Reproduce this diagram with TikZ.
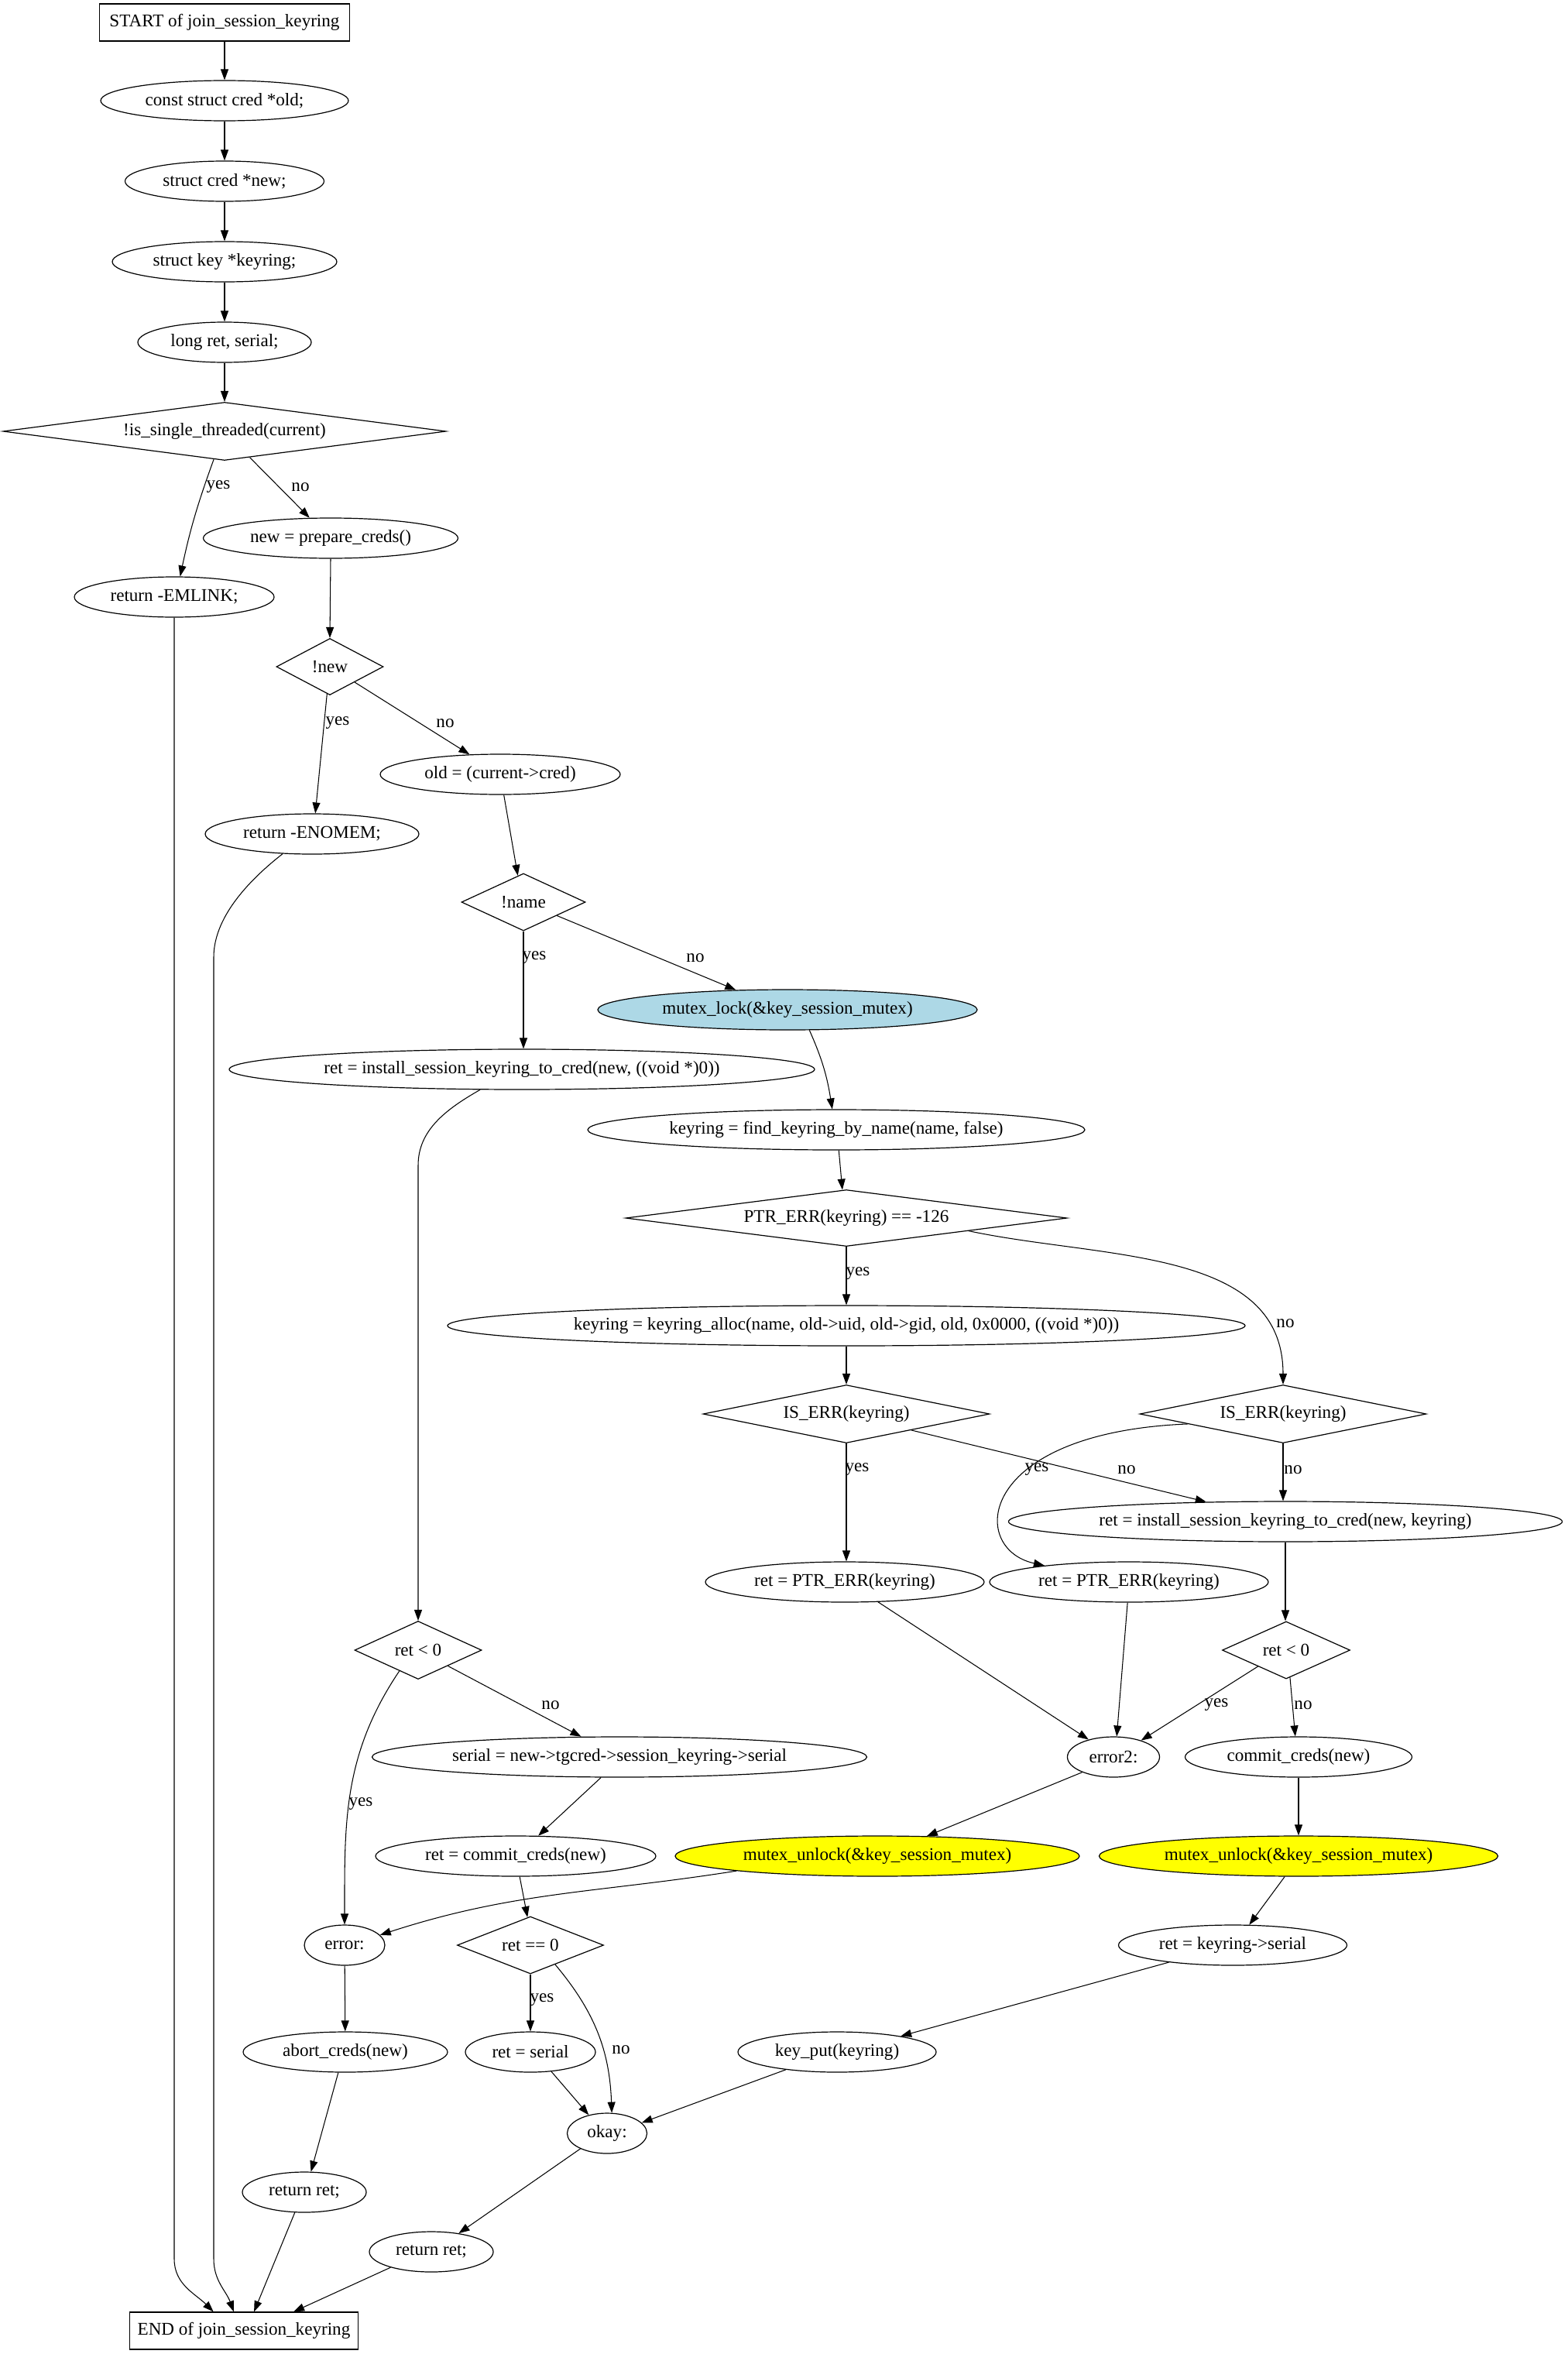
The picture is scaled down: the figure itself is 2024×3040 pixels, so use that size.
\documentclass[tikz,border=0pt]{standalone}
\usepackage{fontspec}
\setmainfont{Liberation Serif}
\usetikzlibrary{shapes.geometric,arrows.meta}
\definecolor{lockblue}{HTML}{ADD8E6}
\definecolor{unlockyellow}{HTML}{FFFF00}
\begin{document}
\begin{tikzpicture}[x=1pt,y=1pt,
  every node/.style={font=\fontsize{23.1}{27}\selectfont},
  base/.style={draw, line width=1.2pt, inner sep=0pt},
  ell/.style={base, ellipse, minimum height=52pt, minimum width=#1},
  box/.style={base, rectangle, minimum height=48pt, minimum width=#1},
  dia/.style 2 args={base, diamond, minimum width=#1, minimum height=#2},
  arr/.style={line width=1.05pt, -{Triangle[length=14pt,width=10pt]}},
  lbl/.style={inner sep=0pt}
]
\useasboundingbox (0,0) rectangle (2024,-3040);

% nodes
\node[box=323pt] (start) at (290,-29) {START of join\_session\_keyring};
\node[ell=320pt] (old) at (290,-130) {const struct cred *old;};
\node[ell=257pt] (newv) at (290,-234) {struct cred *new;};
\node[ell=290pt] (kr) at (290,-338) {struct key *keyring;};
\node[ell=224pt] (lng) at (290,-442) {long ret, serial;};
\node[dia={572pt}{75pt}, aspect=7.6] (isst) at (290,-557) {!is\_single\_threaded(current)};
\node[ell=258pt] (emlink) at (225,-771) {return -EMLINK;};
\node[ell=329pt] (prep) at (427,-695) {new = prepare\_creds()};
\node[dia={138pt}{73pt}, aspect=1.9] (dnew) at (426,-861) {!new};
\node[ell=310pt] (oldcur) at (646,-1000) {old = (current->cred)};
\node[ell=276pt] (enomem) at (403,-1077) {return -ENOMEM;};
\node[dia={160pt}{74pt}, aspect=2.16] (dname) at (676,-1165) {!name};
\node[ell=490pt, fill=lockblue] (mlock) at (1017,-1304) {mutex\_lock(\&key\_session\_mutex)};
\node[ell=756pt] (inst0) at (674,-1381) {ret = install\_session\_keyring\_to\_cred(new, ((void *)0))};
\node[ell=642pt] (find) at (1080,-1459) {keyring = find\_keyring\_by\_name(name, false)};
\node[dia={570pt}{73pt}, aspect=7.8] (ptr) at (1093,-1573) {PTR\_ERR(keyring) == -126};
\node[ell=1030pt] (alloc) at (1093,-1712) {keyring = keyring\_alloc(name, old->uid, old->gid, old, 0x0000, ((void *)0))};
\node[dia={370pt}{75pt}, aspect=5] (iserrL) at (1093,-1826) {IS\_ERR(keyring)};
\node[dia={370pt}{75pt}, aspect=5] (iserrR) at (1657,-1826) {IS\_ERR(keyring)};
\node[ell=715pt] (instK) at (1660,-1965) {ret = install\_session\_keyring\_to\_cred(new, keyring)};
\node[ell=360pt] (rptrL) at (1091,-2043) {ret = PTR\_ERR(keyring)};
\node[ell=360pt] (rptrR) at (1458,-2043) {ret = PTR\_ERR(keyring)};
\node[dia={164pt}{75pt}, aspect=2.2] (rltL) at (540,-2131) {ret < 0};
\node[dia={165pt}{74pt}, aspect=2.2] (rltR) at (1661,-2131) {ret < 0};
\node[ell=639pt] (serial) at (800,-2269) {serial = new->tgcred->session\_keyring->serial};
\node[ell=119pt] (err2) at (1438,-2269) {error2:};
\node[ell=293pt] (cc) at (1677,-2269) {commit\_creds(new)};
\node[ell=362pt] (rcc) at (666,-2397) {ret = commit\_creds(new)};
\node[ell=522pt, fill=unlockyellow] (unlL) at (1133,-2397) {mutex\_unlock(\&key\_session\_mutex)};
\node[ell=515pt, fill=unlockyellow] (unlR) at (1677,-2397) {mutex\_unlock(\&key\_session\_mutex)};
\node[ell=104pt] (err) at (445,-2512) {error:};
\node[dia={189pt}{74pt}, aspect=2.55] (req0) at (685,-2512) {ret == 0};
\node[ell=295pt] (rks) at (1592,-2512) {ret = keyring->serial};
\node[ell=264pt] (abort) at (446,-2650) {abort\_creds(new)};
\node[ell=168pt] (rser) at (685,-2650) {ret = serial};
\node[ell=256pt] (kput) at (1081,-2650) {key\_put(keyring)};
\node[ell=103pt] (okay) at (784,-2755) {okay:};
\node[ell=160pt] (retL) at (393,-2831) {return ret;};
\node[ell=160pt] (retR) at (557,-2908) {return ret;};
\node[box=295pt] (endn) at (315,-3010) {END of join\_session\_keyring};

% bend points
\coordinate (bendI) at (540,-1505);
\coordinate (bendE) at (225,-2917);
\coordinate (bendN1) at (276,-1236);
\coordinate (bendN2) at (276,-2917);

% edges
\draw[arr] (start) -- (old);
\draw[arr] (old) -- (newv);
\draw[arr] (newv) -- (kr);
\draw[arr] (kr) -- (lng);
\draw[arr] (lng) -- (isst);
\draw[arr] (isst.-111) to[out=-110,in=78] (emlink.74);
\draw[arr] (isst.-46) -- (prep.136);
\draw[arr] (prep.south) -- (dnew.north);
\draw[arr] (dnew.-96) -- (enomem.81);
\draw[arr] (dnew.-32) -- (oldcur.147);
\draw[arr] (oldcur.-80) -- (dname.102);
\draw[arr] (dname.-22) -- (mlock.159);
\draw[arr] (dname) -- (dname |- inst0.north);
\draw[arr] (mlock.-43) to[out=-66,in=99] (find.101);
\draw[arr] (find.-83) -- (ptr.98);
\draw[arr] (ptr) -- (alloc);
\draw[arr] (ptr.-6) to[out=-12,in=90] (iserrR.north);
\draw[arr] (alloc) -- (iserrL);
\draw[arr] (iserrL) -- (iserrL |- rptrL.north);
\draw[arr] (iserrL.-14) -- (instK.166);
\draw[arr] (iserrR.-174) .. controls (1260,-1850) and (1250,-2000) .. (rptrR.169);
\draw[arr] (iserrR) -- (iserrR |- instK.north);
\draw[arr] (instK) -- (instK |- rltR.north);
\draw[arr] (inst0.-154) .. controls (575,-1433) and (540,-1460) .. (bendI) -- (rltL.north);
\draw[arr] (rptrL.-31) -- (err2.145);
\draw[arr] (rptrR.-94) -- (err2.81);
\draw[arr] (rltR.-150) -- (err2.31);
\draw[arr] (rltR.-82) -- (cc.99);
\draw[arr] (rltL.-28) -- (serial.152);
\draw[arr] (rltL.-132) to[out=-124,in=90] (err.north);
\draw[arr] (serial.-132) -- (rcc.42);
\draw[arr] (err2.-154) -- (unlL.22);
\draw[arr] (cc) -- (unlR);
\draw[arr] (unlL.-174) to[out=-171,in=18] (err.16);
\draw[arr] (rcc.-79) -- (req0.96);
\draw[arr] (unlR.-124) -- (rks.51);
\draw[arr] (err) -- (abort);
\draw[arr] (req0) -- (rser);
\draw[arr] (req0.-38) to[out=-50,in=92] (okay.77);
\draw[arr] (rks.-165) -- (kput.14);
\draw[arr] (abort.-109) -- (retL.72);
\draw[arr] (rser.-43) -- (okay.135);
\draw[arr] (kput.-161) -- (okay.17);
\draw[arr] (okay.-150) -- (retR.34);
\draw[arr] (retL.-115) -- (endn.62);
\draw[arr] (retR.-159) -- (endn.21);
\draw[arr] (emlink.south) -- (bendE) to[out=-90,in=135] (endn.148);
\draw[arr] (enomem.-146) .. controls (330,-1130) and (276,-1180) .. (bendN1) -- (bendN2) to[out=-90,in=110] (endn.118);

% labels
\node[lbl] at (282,-629) {yes};
\node[lbl] at (388,-629) {no};
\node[lbl] at (436,-934) {yes};
\node[lbl] at (575,-934) {no};
\node[lbl] at (690,-1237) {yes};
\node[lbl] at (898,-1237) {no};
\node[lbl] at (1108,-1645) {yes};
\node[lbl] at (1660,-1709) {no};
\node[lbl] at (1107,-1898) {yes};
\node[lbl] at (1455,-1898) {no};
\node[lbl] at (1339,-1898) {yes};
\node[lbl] at (1670,-1898) {no};
\node[lbl] at (711,-2202) {no};
\node[lbl] at (466,-2330) {yes};
\node[lbl] at (1571,-2202) {yes};
\node[lbl] at (1683,-2202) {no};
\node[lbl] at (700,-2583) {yes};
\node[lbl] at (802,-2647) {no};
\end{tikzpicture}
\end{document}
